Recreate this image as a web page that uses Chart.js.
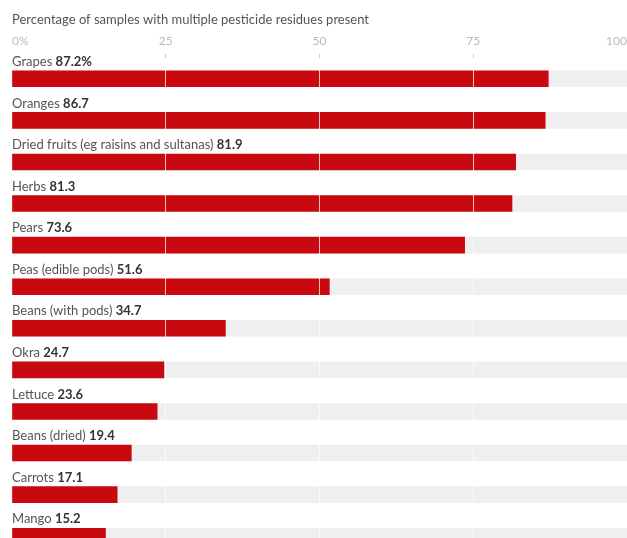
<!DOCTYPE html>
<html>
<head>
<meta charset="utf-8">
<script src="https://cdn.jsdelivr.net/npm/chart.js@4/dist/chart.umd.min.js"></script>
<style>
  html, body { margin: 0; padding: 0; background: #fff; overflow: hidden; }
  body { width: 627px; height: 538px; }
  canvas { display: block; }
</style>
</head>
<body>
<canvas id="c" width="627" height="557"></canvas>
<script>
const titleText = "Percentage of samples with multiple pesticide residues present";
const categories = ["Grapes", "Oranges", "Dried fruits (eg raisins and sultanas)", "Herbs", "Pears",
  "Peas (edible pods)", "Beans (with pods)", "Okra", "Lettuce", "Beans (dried)", "Carrots", "Mango"];
const values = [87.2, 86.7, 81.9, 81.3, 73.6, 51.6, 34.7, 24.7, 23.6, 19.4, 17.1, 15.2];
const valueLabels = ["87.2%", "86.7", "81.9", "81.3", "73.6", "51.6", "34.7", "24.7", "23.6", "19.4", "17.1", "15.2"];
const fullScale = [100, 100, 100, 100, 100, 100, 100, 100, 100, 100, 100, 100];
const tickValues = [0, 25, 50, 75, 100];
const tickLabels = ["0%", "25", "50", "75", "100"];

const FONT = "Lato";

const labelPlugin = {
  id: "rowLabels",
  afterDraw(chart) {
    const ctx = chart.ctx;
    const y = chart.scales.y;
    const left = chart.chartArea.left;
    ctx.save();
    ctx.textBaseline = "middle";
    ctx.textAlign = "left";
    categories.forEach((name, i) => {
      const py = y.getPixelForValue(i) - 17;
      ctx.font = "400 13px " + FONT;
      const t = name + " ";
      const w = ctx.measureText(t).width;
      ctx.font = "700 13px " + FONT;
      const w2 = ctx.measureText(valueLabels[i]).width;
      ctx.fillStyle = "#fff";
      ctx.fillRect(left, py - 8, w + w2 + 1, 16);
      ctx.font = "400 13px " + FONT;
      ctx.fillStyle = "#555";
      ctx.fillText(t, left, py);
      ctx.font = "700 13px " + FONT;
      ctx.fillStyle = "#333";
      ctx.fillText(valueLabels[i], left + w, py);
    });
    ctx.restore();
  }
};

new Chart(document.getElementById("c"), {
  type: "bar",
  data: {
    labels: categories,
    datasets: [
      { data: values, backgroundColor: "#c8090f", barThickness: 16, grouped: false, order: 0 },
      { data: fullScale, backgroundColor: "#efefef", barThickness: 16, grouped: false, order: 1 }
    ]
  },
  options: {
    indexAxis: "y",
    responsive: false,
    animation: false,
    layout: { padding: { left: 12, right: 0, top: 0, bottom: 0 } },
    plugins: {
      legend: { display: false },
      tooltip: { enabled: false },
      title: {
        display: true,
        text: titleText,
        align: "start",
        color: "#555",
        font: { family: FONT, size: 13, weight: "400" },
        padding: { top: 12, bottom: 0 }
      }
    },
    scales: {
      x: {
        position: "top",
        min: 0, max: 100,
        afterBuildTicks(scale) { scale.ticks = tickValues.map(v => ({ value: v })); },
        afterFit(scale) { scale.paddingRight = 0; scale.paddingLeft = 0; },
        ticks: {
          align: "inner",
          padding: 6,
          color: "#bbb",
          font: { family: FONT, size: 12 },
          callback: (v) => tickLabels[tickValues.indexOf(v)]
        },
        grid: {
          z: 1,
          color: (c) => (c.tick && (c.tick.value === 0 || c.tick.value === 100)) ? "rgba(0,0,0,0)" : "rgba(255,255,255,0.75)",
          tickColor: "#ccc",
          tickLength: 4,
          lineWidth: 1
        },
        border: { display: false }
      },
      y: { display: false }
    }
  },
  plugins: [labelPlugin]
});
</script>
</body>
</html>
